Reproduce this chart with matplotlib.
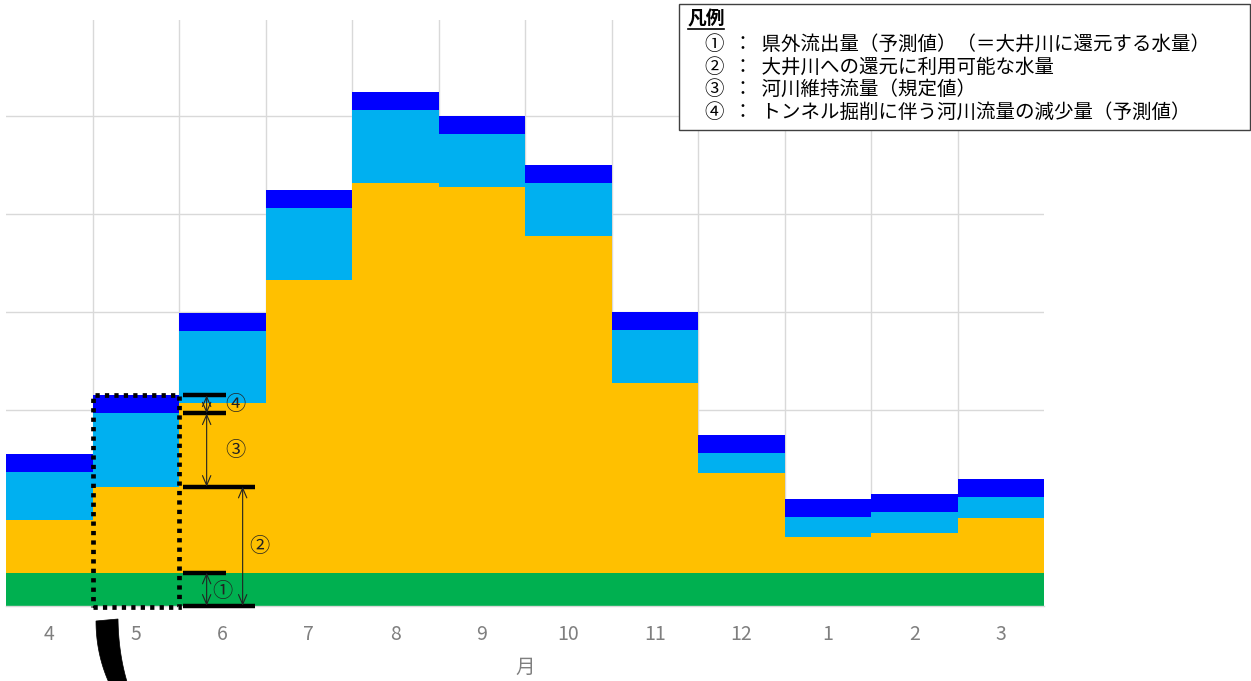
import matplotlib
matplotlib.use("Agg")
import matplotlib.pyplot as plt
import numpy as np
from matplotlib.patches import Rectangle, Polygon

plt.rcParams['font.family'] = ['Noto Sans CJK JP', 'DejaVu Sans']

months = ["4", "5", "6", "7", "8", "9", "10", "11", "12", "1", "2", "3"]
# ① 県外流出量（予測値）
outflow = [0.337] * 12
# ② 大井川への還元に利用可能な水量
available = [0.533, 0.877, 1.731, 2.982, 3.979, 3.935, 3.435, 1.931, 1.013, 0.360, 0.408, 0.558]
# ③ 河川維持流量（規定値）
maintenance = [0.490, 0.748, 0.738, 0.742, 0.745, 0.541, 0.537, 0.541, 0.208, 0.211, 0.214, 0.214]
# ④ トンネル掘削に伴う河川流量の減少量（予測値）
decrease = [0.184] * 12

legend_title = "凡例"
legend_lines = [
    "①  ：  県外流出量（予測値）（＝大井川に還元する水量）",
    "②  ：  大井川への還元に利用可能な水量",
    "③  ：  河川維持流量（規定値）",
    "④  ：  トンネル掘削に伴う河川流量の減少量（予測値）",
]
xlabel = "月"

colors = ["#00B050", "#FFC000", "#00B0F0", "#0000FF"]

W, H = 1251, 681
fig = plt.figure(figsize=(W / 100, H / 100), dpi=100)

def fx(x):
    return x / W

def fy(y):
    return 1 - y / H

ax_left, ax_right, ax_top, ax_bottom = 6, 1044.3, 20, 605.7
ax = fig.add_axes([fx(ax_left), fy(ax_bottom), fx(ax_right - ax_left), (ax_bottom - ax_top) / H])

x = np.arange(len(months))
o = np.array(outflow)
a = np.array(available)
m = np.array(maintenance)
d = np.array(decrease)

ax.bar(x, o, width=1.0, color=colors[0], linewidth=0, zorder=2)
ax.bar(x, a, width=1.0, bottom=o, color=colors[1], linewidth=0, zorder=2)
ax.bar(x, m, width=1.0, bottom=o + a, color=colors[2], linewidth=0, zorder=2)
ax.bar(x, d, width=1.0, bottom=o + a + m, color=colors[3], linewidth=0, zorder=2)

ax.set_xlim(-0.5, len(months) - 0.5)
ax.set_ylim(0, (ax_bottom - ax_top) / 98.0)
ax.set_yticks([1, 2, 3, 4, 5])
ax.set_yticklabels([])
ax.set_xticks(x)
ax.set_xticklabels(months, color="#7f7f7f", fontsize=14)
ax.set_xticks(np.arange(0.5, len(months) - 1, 1.0), minor=True)
ax.tick_params(axis='both', which='both', length=0)
ax.tick_params(axis='x', pad=13)
ax.grid(True, axis='y', which='major', color="#d9d9d9", linewidth=1.0, zorder=0)
ax.grid(True, axis='x', which='minor', color="#d9d9d9", linewidth=1.0, zorder=0)
ax.set_axisbelow(True)
for s in ["top", "right", "left"]:
    ax.spines[s].set_visible(False)
ax.spines["bottom"].set_color("#d9d9d9")
ax.spines["bottom"].set_linewidth(1.0)

ax.set_xlabel(xlabel, color="#7f7f7f", fontsize=14)
ax.xaxis.set_label_coords(0.5, (ax_bottom - 657) / (ax_bottom - ax_top))

# dotted rectangle around month 5
i5 = 1
top5 = o[i5] + a[i5] + m[i5] + d[i5]
rect = Rectangle((i5 - 0.5, -0.015), 1.0, top5 + 0.015, fill=False, edgecolor="black",
                 linewidth=3.4, linestyle=(0, (0.9, 1.1)), zorder=5, clip_on=False)
rect.set_capstyle("butt")
ax.add_patch(rect)

# annotation lines at month 6 position
levels = [o[i5] + a[i5] + m[i5] + d[i5], o[i5] + a[i5] + m[i5], o[i5] + a[i5], o[i5], 0.0]
short_x = (1.546, 2.042)
long_x = (1.546, 2.378)
for lv, xs in zip(levels, [short_x, short_x, long_x, short_x, long_x]):
    ax.plot(xs, [lv, lv], color="black", linewidth=3.2, solid_capstyle="butt", zorder=6, clip_on=False)

arrow_kw = dict(arrowstyle="<->,head_length=0.7,head_width=0.3", color="#222222", linewidth=0.8,
                shrinkA=0, shrinkB=0)
ax.annotate("", xy=(1.819, levels[0]), xytext=(1.819, levels[1]), arrowprops=arrow_kw, zorder=6)
ax.annotate("", xy=(1.819, levels[1]), xytext=(1.819, levels[2]), arrowprops=arrow_kw, zorder=6)
ax.annotate("", xy=(1.819, levels[3]), xytext=(1.819, levels[4]), arrowprops=arrow_kw, zorder=6)
ax.annotate("", xy=(2.235, levels[2]), xytext=(2.235, levels[4]), arrowprops=arrow_kw, zorder=6)

lab_kw = dict(fontsize=14.5, color="#222222", ha="center", va="center", zorder=7)
ax.text(2.146, (levels[0] + levels[1]) / 2, "④", **lab_kw)
ax.text(2.146, (levels[1] + levels[2]) / 2, "③", **lab_kw)
ax.text(2.427, (levels[2] + levels[4]) / 2, "②", **lab_kw)
ax.text(2.004, (levels[3] + levels[4]) / 2 - 0.02, "①", **lab_kw)

# legend box
lb = Rectangle((fx(679), fy(130)), fx(1250 - 679), (130 - 3.5) / H, transform=fig.transFigure,
               facecolor="white", edgecolor="#404040", linewidth=1.0, zorder=10)
fig.add_artist(lb)
t = fig.text(fx(688), fy(19), legend_title, fontsize=13.5, fontweight="bold", ha="left", va="center",
             color="black", zorder=11)
fig.add_artist(plt.Line2D([fx(688), fx(724)], [fy(29), fy(29)], transform=fig.transFigure,
                          color="black", linewidth=1.2, zorder=11))
for yy, line in zip([44, 67, 89, 112], legend_lines):
    fig.text(fx(705), fy(yy), line, fontsize=14, ha="left", va="center", color="black", zorder=11)

# thick black curved stroke below month 5 (partial callout)
def qbez(p0, p1, p2, n=20):
    tt = np.linspace(0, 1, n)[:, None]
    p0, p1, p2 = map(np.array, (p0, p1, p2))
    return (1 - tt) ** 2 * p0 + 2 * (1 - tt) * tt * p1 + tt ** 2 * p2

right = qbez((118, 619), (118.5, 655), (128, 685))
left = qbez((110, 685), (96, 655), (96, 621))
pts = np.vstack([right, left])
pts_fig = np.column_stack([pts[:, 0] / W, 1 - pts[:, 1] / H])
fig.add_artist(Polygon(pts_fig, closed=True, transform=fig.transFigure, facecolor="black",
                       edgecolor="black", linewidth=0.5, zorder=12))

fig.savefig("out.png", dpi=100)
